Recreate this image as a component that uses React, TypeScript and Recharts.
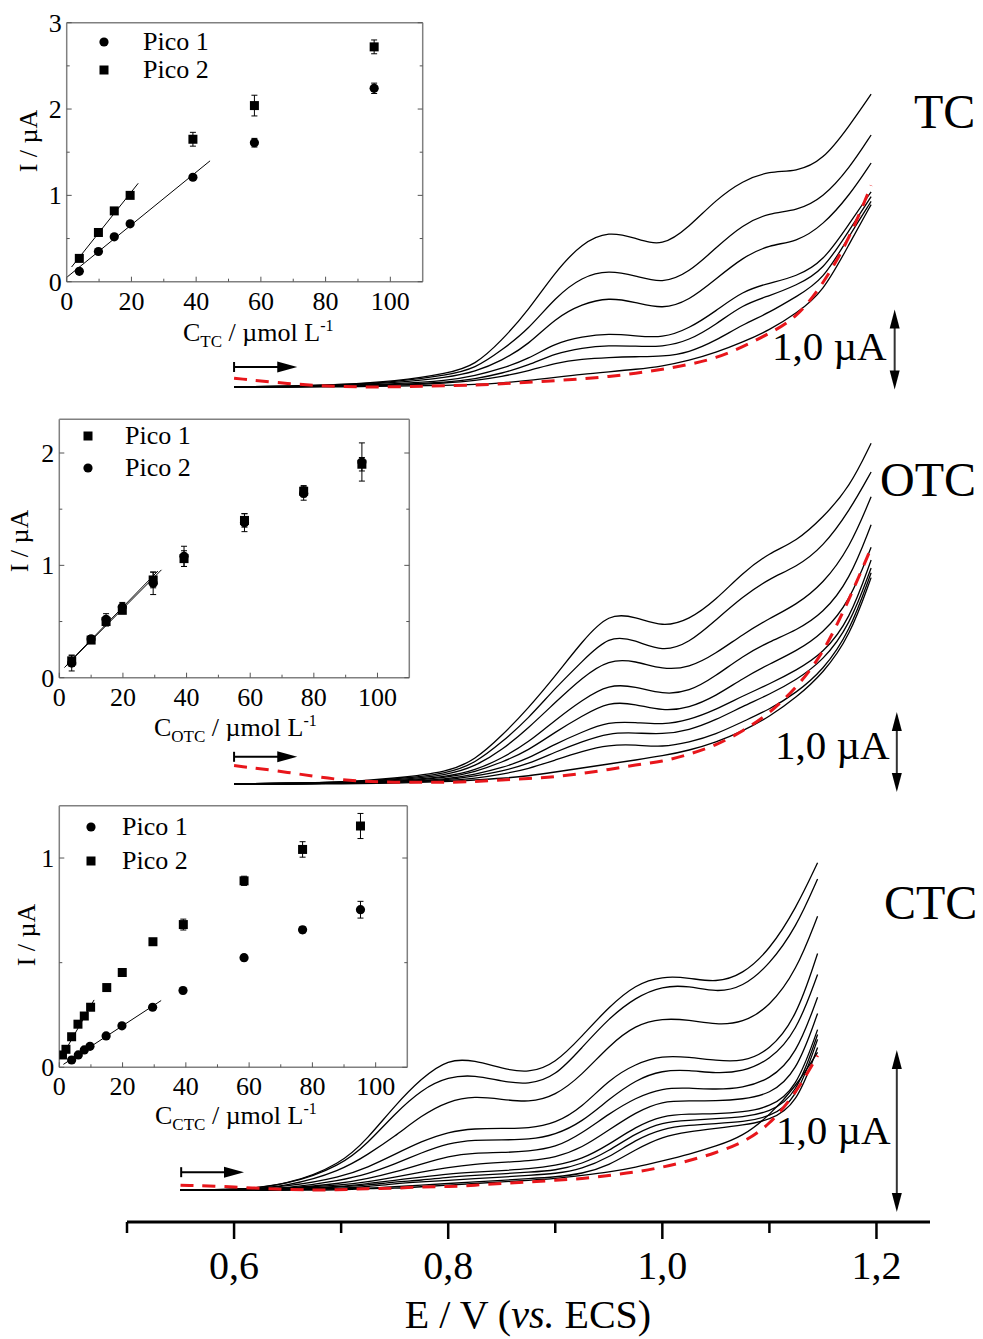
import React from 'react';
import {
  LineChart,
  Line,
  XAxis,
  YAxis,
  ReferenceLine,
  ComposedChart,
  Scatter,
  ErrorBar,
} from 'recharts';

const FONT = "'Liberation Serif', 'Times New Roman', serif";

// main potential axis, V vs. ECS
const potentialTicks = [0.5, 0.6, 0.7, 0.8, 0.9, 1.0, 1.1, 1.2];

// TC voltammograms (uA, relative to the start of the scan)
const tcE = [0.6, 0.65, 0.7, 0.75, 0.8, 0.825, 0.85, 0.875, 0.9, 0.925, 0.95, 0.975, 1.0, 1.025, 1.05, 1.075, 1.1, 1.125, 1.15, 1.175, 1.195];
const tcScan1 = [0, 0.01, 0.03, 0.07, 0.17, 0.27, 0.58, 0.96, 1.44, 1.8, 1.95, 1.86, 1.75, 2.0, 2.34, 2.58, 2.7, 2.69, 2.83, 3.27, 3.66];
const tcScan2 = [0, 0.01, 0.03, 0.06, 0.15, 0.23, 0.46, 0.72, 1.12, 1.38, 1.46, 1.39, 1.29, 1.43, 1.74, 2.03, 2.18, 2.2, 2.36, 2.74, 3.15];
const tcScan3 = [0, 0.01, 0.02, 0.05, 0.12, 0.19, 0.33, 0.53, 0.86, 1.04, 1.12, 1.06, 0.97, 1.08, 1.35, 1.62, 1.78, 1.81, 2.02, 2.4, 2.8];
const tcScan4 = [0, 0, 0.02, 0.04, 0.08, 0.14, 0.23, 0.35, 0.55, 0.63, 0.67, 0.64, 0.61, 0.73, 0.95, 1.2, 1.3, 1.38, 1.56, 2.05, 2.44];
const tcScan5 = [0, 0, 0.01, 0.03, 0.06, 0.1, 0.17, 0.27, 0.42, 0.49, 0.52, 0.51, 0.5, 0.58, 0.78, 1.03, 1.14, 1.27, 1.45, 1.97, 2.38];
const tcScan6 = [0, 0, 0.01, 0.02, 0.05, 0.08, 0.13, 0.2, 0.3, 0.35, 0.37, 0.38, 0.38, 0.43, 0.58, 0.78, 0.93, 1.13, 1.33, 1.9, 2.32];
const tcScan7 = [0, 0, 0, 0.01, 0.02, 0.03, 0.05, 0.08, 0.12, 0.16, 0.19, 0.22, 0.26, 0.33, 0.43, 0.56, 0.71, 0.92, 1.18, 1.8, 2.28];
const tcBlank = [0.11, 0.04, 0, 0, 0.02, 0.02, 0.04, 0.06, 0.08, 0.1, 0.13, 0.17, 0.22, 0.28, 0.36, 0.5, 0.67, 0.86, 1.28, 1.86, 2.52];

// OTC voltammograms
const otcE = [0.6, 0.65, 0.7, 0.75, 0.8, 0.825, 0.85, 0.875, 0.9, 0.925, 0.95, 0.975, 1.0, 1.025, 1.05, 1.075, 1.1, 1.125, 1.15, 1.175, 1.195];
const otcScan1 = [0, 0.01, 0.02, 0.07, 0.15, 0.3, 0.6, 0.95, 1.35, 1.78, 2.14, 2.09, 1.96, 2.05, 2.3, 2.64, 2.89, 3.03, 3.33, 3.71, 4.26];
const otcScan2 = [0, 0.01, 0.02, 0.06, 0.13, 0.26, 0.52, 0.82, 1.2, 1.53, 1.86, 1.8, 1.65, 1.76, 2.05, 2.34, 2.57, 2.71, 2.96, 3.42, 3.9];
const otcScan3 = [0, 0.01, 0.02, 0.05, 0.11, 0.22, 0.42, 0.7, 1.02, 1.33, 1.56, 1.54, 1.43, 1.45, 1.63, 1.87, 2.07, 2.24, 2.5, 2.95, 3.59];
const otcScan4 = [0, 0.01, 0.02, 0.04, 0.09, 0.17, 0.32, 0.52, 0.8, 1.05, 1.25, 1.22, 1.12, 1.15, 1.35, 1.6, 1.78, 1.92, 2.13, 2.55, 3.24];
const otcScan5 = [0, 0, 0.01, 0.03, 0.08, 0.15, 0.27, 0.42, 0.65, 0.85, 1.03, 1.0, 0.91, 0.95, 1.1, 1.32, 1.5, 1.66, 1.88, 2.28, 2.96];
const otcScan6 = [0, 0, 0.01, 0.03, 0.06, 0.12, 0.2, 0.32, 0.5, 0.65, 0.78, 0.77, 0.74, 0.8, 0.93, 1.1, 1.25, 1.42, 1.63, 2.05, 2.8];
const otcScan7 = [0, 0, 0.01, 0.02, 0.05, 0.1, 0.16, 0.25, 0.4, 0.53, 0.64, 0.64, 0.62, 0.67, 0.8, 0.97, 1.12, 1.3, 1.54, 1.98, 2.7];
const otcScan8 = [0, 0, 0.01, 0.02, 0.04, 0.07, 0.12, 0.19, 0.3, 0.41, 0.49, 0.49, 0.46, 0.52, 0.62, 0.78, 0.93, 1.14, 1.42, 1.9, 2.64];
const otcScan9 = [0, 0, 0, 0.01, 0.03, 0.05, 0.07, 0.1, 0.15, 0.2, 0.25, 0.3, 0.35, 0.42, 0.52, 0.66, 0.84, 1.08, 1.38, 1.84, 2.58];
const otcBlank = [0.23, 0.15, 0.04, 0.02, 0.02, 0.03, 0.05, 0.07, 0.09, 0.13, 0.18, 0.24, 0.28, 0.37, 0.48, 0.66, 0.88, 1.2, 1.62, 2.32, 2.95];

// CTC voltammograms
const ctcE = [0.55, 0.6, 0.65, 0.7, 0.725, 0.75, 0.775, 0.8, 0.825, 0.85, 0.875, 0.9, 0.925, 0.95, 0.975, 1.0, 1.025, 1.05, 1.075, 1.1, 1.125, 1.145];
const ctcScan1 = [0, 0, 0.03, 0.16, 0.32, 0.52, 0.69, 0.81, 0.8, 0.75, 0.72, 0.78, 0.95, 1.13, 1.27, 1.32, 1.31, 1.28, 1.33, 1.48, 1.74, 2.02];
const ctcScan2 = [0, 0, 0.03, 0.15, 0.29, 0.47, 0.62, 0.7, 0.71, 0.67, 0.65, 0.7, 0.88, 1.06, 1.19, 1.26, 1.26, 1.22, 1.25, 1.39, 1.62, 1.92];
const ctcScan3 = [0, 0, 0.02, 0.12, 0.22, 0.33, 0.46, 0.55, 0.58, 0.56, 0.54, 0.58, 0.71, 0.89, 1.02, 1.06, 1.05, 1.02, 1.03, 1.13, 1.35, 1.69];
const ctcScan4 = [0, 0, 0.02, 0.08, 0.14, 0.22, 0.3, 0.36, 0.38, 0.38, 0.38, 0.41, 0.51, 0.68, 0.78, 0.83, 0.82, 0.8, 0.79, 0.86, 1.06, 1.46];
const ctcScan5 = [0, 0, 0.01, 0.06, 0.1, 0.16, 0.23, 0.29, 0.31, 0.31, 0.31, 0.34, 0.42, 0.56, 0.68, 0.74, 0.74, 0.72, 0.73, 0.8, 0.97, 1.33];
const ctcScan6 = [0, 0, 0.01, 0.04, 0.07, 0.11, 0.16, 0.21, 0.23, 0.23, 0.24, 0.26, 0.35, 0.47, 0.57, 0.63, 0.63, 0.62, 0.63, 0.68, 0.83, 1.19];
const ctcScan7 = [0, 0, 0.01, 0.03, 0.05, 0.08, 0.11, 0.14, 0.16, 0.17, 0.18, 0.2, 0.26, 0.37, 0.48, 0.55, 0.55, 0.55, 0.56, 0.59, 0.72, 1.09];
const ctcScan8 = [0, 0, 0.01, 0.02, 0.04, 0.06, 0.08, 0.1, 0.11, 0.12, 0.13, 0.15, 0.19, 0.28, 0.39, 0.46, 0.47, 0.47, 0.48, 0.51, 0.62, 0.99];
const ctcScan9 = [0, 0, 0, 0.02, 0.03, 0.05, 0.06, 0.08, 0.09, 0.1, 0.11, 0.12, 0.16, 0.24, 0.35, 0.42, 0.43, 0.44, 0.45, 0.48, 0.58, 0.96];
const ctcScan10 = [0, 0, 0, 0.01, 0.02, 0.04, 0.05, 0.06, 0.07, 0.08, 0.09, 0.1, 0.13, 0.2, 0.31, 0.38, 0.4, 0.41, 0.42, 0.45, 0.55, 0.93];
const ctcScan11 = [0, 0, 0, 0.01, 0.01, 0.02, 0.03, 0.04, 0.05, 0.06, 0.07, 0.08, 0.1, 0.15, 0.25, 0.33, 0.36, 0.38, 0.4, 0.43, 0.52, 0.88];
const ctcScan12 = [0, 0, 0, 0, 0.01, 0.01, 0.02, 0.03, 0.04, 0.05, 0.06, 0.07, 0.09, 0.11, 0.14, 0.18, 0.22, 0.27, 0.33, 0.46, 0.64, 0.85];
const ctcBlank = [0.03, 0.02, 0, 0, 0.01, 0.01, 0.02, 0.02, 0.03, 0.04, 0.05, 0.06, 0.07, 0.09, 0.11, 0.14, 0.18, 0.23, 0.29, 0.4, 0.6, 0.83];

// calibration insets: concentration (umol/L), peak current (uA), std dev
const insetConcTicks = [0, 10, 20, 30, 40, 50, 60, 70, 80, 90, 100];

const tcConc = [3.9, 9.8, 14.7, 19.6, 39, 58, 95];
const tcPico1 = [0.12, 0.35, 0.52, 0.67, 1.21, 1.61, 2.24];
const tcPico1Err = [0.02, 0.02, 0.02, 0.02, 0.03, 0.05, 0.06];
const tcPico2 = [0.27, 0.57, 0.82, 1.0, 1.65, 2.04, 2.72];
const tcPico2Err = [0.02, 0.03, 0.03, 0.03, 0.08, 0.12, 0.08];
const tcFit1C = [0, 44.3];
const tcFit1I = [0.05, 1.4];
const tcFit2C = [1.5, 22.1];
const tcFit2I = [0.17, 1.14];
const tcITicks = [0, 0.5, 1, 1.5, 2, 2.5, 3];

const otcConc = [3.9, 10, 14.7, 19.8, 29.5, 39.2, 58.2, 76.8, 95.1];
const otcPico1 = [0.15, 0.335, 0.5, 0.6, 0.87, 1.06, 1.4, 1.66, 1.9];
const otcPico1Err = [0.05, 0.03, 0.04, 0.03, 0.07, 0.07, 0.06, 0.05, 0.06];
const otcPico2 = [0.13, 0.345, 0.52, 0.63, 0.84, 1.08, 1.38, 1.64, 1.92];
const otcPico2Err = [0.07, 0.03, 0.05, 0.04, 0.1, 0.09, 0.08, 0.06, 0.17];
const otcFit1C = [1.6, 32.1];
const otcFit1I = [0.09, 0.96];
const otcFit2C = [2.5, 31];
const otcFit2I = [0.12, 0.95];
const otcITicks = [0, 0.5, 1, 1.5, 2];

const ctcConc1 = [3.9, 6, 7.9, 9.7, 14.8, 19.8, 29.5, 39.1, 58.4, 76.9, 95.2];
const ctcPico1 = [0.035, 0.059, 0.083, 0.1, 0.15, 0.198, 0.287, 0.367, 0.524, 0.657, 0.753];
const ctcPico1Err = [0.01, 0.01, 0.01, 0.01, 0.01, 0.01, 0.01, 0.015, 0.015, 0.015, 0.04];
const ctcConc2 = [1, 2.1, 3.9, 5.9, 7.9, 9.9, 15, 19.9, 29.6, 39.2, 58.4, 76.9, 95.2];
const ctcPico2 = [0.059, 0.086, 0.146, 0.206, 0.245, 0.287, 0.381, 0.453, 0.6, 0.682, 0.891, 1.041, 1.153];
const ctcPico2Err = [0.01, 0.01, 0.01, 0.01, 0.01, 0.01, 0.01, 0.01, 0.015, 0.026, 0.022, 0.037, 0.06];
const ctcFit1C = [1.3, 32.2];
const ctcFit1I = [0.014, 0.319];
const ctcFit2C = [0.7, 11];
const ctcFit2I = [0.048, 0.322];
const ctcITicks = [0, 0.5, 1];

const toRows = (xs: number[], ys: number[]) => xs.map((E, k) => ({ E, i: ys[k] }));
const toPoints = (cs: number[], is: number[], es: number[]) => cs.map((c, k) => ({ c, i: is[k], err: es[k] }));
const toFit = (cs: number[], is: number[]) => cs.map((c, k) => ({ c, i: is[k] }));

// the main plot area runs from y=0 to y=1222; each panel gets its own hidden current axis
const PLOT_BOTTOM = 1222;
const panelDomain = (zeroPx: number, pxPerUA: number): [number, number] => {
  const lo = -(PLOT_BOTTOM - zeroPx) / pxPerUA;
  return [lo, lo + PLOT_BOTTOM / pxPerUA];
};

const panels = [
  {
    id: 'tc',
    E: tcE,
    scans: [tcScan1, tcScan2, tcScan3, tcScan4, tcScan5, tcScan6, tcScan7],
    blank: tcBlank,
    domain: panelDomain(387, 80),
    barX: 1.217,
    barFrom: -0.03,
    arrow: { from: 0.6, to: 0.659, at: 0.25 },
  },
  {
    id: 'otc',
    E: otcE,
    scans: [otcScan1, otcScan2, otcScan3, otcScan4, otcScan5, otcScan6, otcScan7, otcScan8, otcScan9],
    blank: otcBlank,
    domain: panelDomain(784, 80),
    barX: 1.219,
    barFrom: -0.1,
    arrow: { from: 0.6, to: 0.659, at: 0.34 },
  },
  {
    id: 'ctc',
    E: ctcE,
    scans: [ctcScan1, ctcScan2, ctcScan3, ctcScan4, ctcScan5, ctcScan6, ctcScan7, ctcScan8, ctcScan9, ctcScan10, ctcScan11, ctcScan12],
    blank: ctcBlank,
    domain: panelDomain(1190, 162),
    barX: 1.219,
    barFrom: -0.136,
    arrow: { from: 0.5506, to: 0.6093, at: 0.11 },
  },
];

const PotentialTick = (props: any) => {
  const { x, y, payload } = props;
  const v = payload.value;
  const major = Math.round(v * 10) % 2 === 0;
  return (
    <g>
      <line x1={x} x2={x} y1={y} y2={y + (major ? 17 : 11)} stroke="#000" strokeWidth={2.5} />
      {major && (
        <text x={x} y={y + 57} textAnchor="middle" fontSize={40} fontFamily={FONT} fill="#000">
          {v.toFixed(1).replace('.', ',')}
        </text>
      )}
    </g>
  );
};

const PotentialTitle = () => (
  <text x={528} y={1328} textAnchor="middle" fontSize={40} fontFamily={FONT} fill="#000">
    E / V (<tspan fontStyle="italic">vs.</tspan> ECS)
  </text>
);

const ScaleBar = (props: any) => {
  const { x1, y1, y2 } = props;
  const top = Math.min(y1, y2);
  const bottom = Math.max(y1, y2);
  return (
    <g>
      <line x1={x1} x2={x1} y1={top + 12} y2={bottom - 12} stroke="#333" strokeWidth={2} />
      <polygon points={`${x1},${top} ${x1 - 5},${top + 19} ${x1 + 5},${top + 19}`} fill="#000" />
      <polygon points={`${x1},${bottom} ${x1 - 5},${bottom - 19} ${x1 + 5},${bottom - 19}`} fill="#000" />
    </g>
  );
};

const ScanArrow = (props: any) => {
  const { x1, x2, y1 } = props;
  const left = Math.min(x1, x2);
  const right = Math.max(x1, x2);
  return (
    <g>
      <line x1={left} x2={right - 14} y1={y1} y2={y1} stroke="#000" strokeWidth={2} />
      <line x1={left} x2={left} y1={y1 - 5} y2={y1 + 5} stroke="#000" strokeWidth={2} />
      <polygon points={`${right},${y1} ${right - 20},${y1 - 5.5} ${right - 20},${y1 + 5.5}`} fill="#000" />
    </g>
  );
};

// inset ticks point inward on all four sides
const ConcTick = (props: any) => {
  const { x, y, payload } = props;
  const v = payload.value;
  const major = v % 20 === 0;
  return (
    <g>
      <line x1={x} x2={x} y1={y} y2={y - (major ? 5 : 3)} stroke="#555" strokeWidth={1} />
      {major && (
        <text x={x} y={y + 28} textAnchor="middle" fontSize={26} fontFamily={FONT} fill="#000">
          {v}
        </text>
      )}
    </g>
  );
};

const TopTick = (props: any) => {
  const { x, y, payload } = props;
  const major = payload.value % 20 === 0;
  return <line x1={x} x2={x} y1={y} y2={y + (major ? 5 : 3)} stroke="#555" strokeWidth={1} />;
};

const CurrentTick = (props: any) => {
  const { x, y, payload } = props;
  const v = payload.value;
  const major = Number.isInteger(v);
  return (
    <g>
      <line x1={x} x2={x + (major ? 5 : 3)} y1={y} y2={y} stroke="#555" strokeWidth={1} />
      {major && (
        <text x={x - 5} y={y + 9} textAnchor="end" fontSize={26} fontFamily={FONT} fill="#000">
          {v}
        </text>
      )}
    </g>
  );
};

const RightTick = (props: any) => {
  const { x, y, payload } = props;
  const major = Number.isInteger(payload.value);
  return <line x1={x} x2={x - (major ? 5 : 3)} y1={y} y2={y} stroke="#555" strokeWidth={1} />;
};

const DotMark = (p: any) => <circle cx={p.cx} cy={p.cy} r={4.6} fill="#000" />;
const SquareMark = (p: any) => <rect x={p.cx - 4.5} y={p.cy - 4.5} width={9} height={9} fill="#000" />;

const frameLine = { stroke: '#808080', strokeWidth: 1.5 };

const Inset = (props: any) => {
  const { top, frame, yMax, yTicks, sub, series, fits, yTitle, xTitle, legend } = props;
  const W = 430;
  const H = 350;
  return (
    <div style={{ position: 'absolute', left: 0, top, width: W, height: H }}>
      <ComposedChart
        width={W}
        height={H}
        margin={{ top: frame.top - top, right: W - frame.right, bottom: 0, left: 0 }}
      >
        <XAxis
          dataKey="c"
          type="number"
          domain={[0, 110]}
          allowDataOverflow
          ticks={insetConcTicks}
          interval={0}
          height={top + H - frame.bottom}
          tickSize={0}
          tickMargin={0}
          tickLine={false}
          axisLine={frameLine}
          tick={ConcTick}
          label={{
            content: () => (
              <text x={xTitle.x} y={xTitle.y - top} fontSize={26} fontFamily={FONT} fill="#000">
                C<tspan fontSize={17} dy={6}>{sub}</tspan>
                <tspan dy={-6}> / µmol L</tspan>
                <tspan fontSize={16} dy={-10}>-1</tspan>
              </text>
            ),
          }}
        />
        <XAxis
          xAxisId="top"
          orientation="top"
          mirror
          type="number"
          domain={[0, 110]}
          allowDataOverflow
          ticks={insetConcTicks}
          interval={0}
          tickSize={0}
          tickMargin={0}
          tickLine={false}
          axisLine={frameLine}
          tick={TopTick}
        />
        <YAxis
          dataKey="i"
          type="number"
          domain={[0, yMax]}
          allowDataOverflow
          ticks={yTicks}
          interval={0}
          width={frame.left}
          tickSize={0}
          tickMargin={0}
          tickLine={false}
          axisLine={frameLine}
          tick={CurrentTick}
          label={{
            content: () => (
              <text
                transform={`translate(${yTitle.x},${yTitle.y - top}) rotate(-90)`}
                textAnchor="middle"
                fontSize={26}
                fontFamily={FONT}
                fill="#000"
              >
                I / µA
              </text>
            ),
          }}
        />
        <YAxis
          yAxisId="right"
          orientation="right"
          mirror
          type="number"
          domain={[0, yMax]}
          allowDataOverflow
          ticks={yTicks}
          interval={0}
          tickSize={0}
          tickMargin={0}
          tickLine={false}
          axisLine={frameLine}
          tick={RightTick}
        />
        {fits.map((f: any, k: number) => (
          <Line
            key={'fit' + k}
            data={f}
            dataKey="i"
            type="linear"
            stroke="#000"
            strokeWidth={1}
            dot={false}
            activeDot={false}
            isAnimationActive={false}
          />
        ))}
        {series.map((s: any, k: number) => (
          <Scatter
            key={'pts' + k}
            data={s.rows}
            dataKey="i"
            shape={s.shape === 'circle' ? DotMark : SquareMark}
            isAnimationActive={false}
          >
            <ErrorBar dataKey="err" direction="y" width={3} stroke="#000" strokeWidth={1} />
          </Scatter>
        ))}
      </ComposedChart>
      {legend.rows.map((r: any) => (
        <React.Fragment key={r.label}>
          <svg
            style={{ position: 'absolute', left: legend.mx - 6, top: r.y - top - 6 }}
            width={12}
            height={12}
          >
            {r.shape === 'circle' ? (
              <circle cx={6} cy={6} r={4.6} fill="#000" />
            ) : (
              <rect x={1.5} y={1.5} width={9} height={9} fill="#000" />
            )}
          </svg>
          <div
            style={{
              position: 'absolute',
              left: legend.tx,
              top: r.y - top - 13.2,
              fontSize: 26,
              lineHeight: '26px',
              fontFamily: FONT,
              whiteSpace: 'nowrap',
              color: '#000',
            }}
          >
            {r.label}
          </div>
        </React.Fragment>
      ))}
    </div>
  );
};

const Caption = ({ text, left, cy, size }: { text: string; left: number; cy: number; size: number }) => (
  <div
    style={{
      position: 'absolute',
      left,
      top: cy - 0.506 * size,
      fontSize: size,
      lineHeight: `${size}px`,
      fontFamily: FONT,
      whiteSpace: 'nowrap',
      color: '#000',
    }}
  >
    {text}
  </div>
);

export default function App() {
  return (
    <div style={{ position: 'absolute', left: 0, top: 0, width: 983, height: 1339, background: '#fff' }}>
      <div style={{ position: 'absolute', left: 0, top: 0 }}>
        <LineChart width={983} height={1339} margin={{ top: 0, right: 53, bottom: 0, left: 127 }}>
          <XAxis
            dataKey="E"
            type="number"
            domain={[0.5, 1.25]}
            allowDataOverflow
            ticks={potentialTicks}
            interval={0}
            height={117}
            tickSize={0}
            tickMargin={0}
            tickLine={false}
            axisLine={{ stroke: '#000', strokeWidth: 3 }}
            tick={PotentialTick}
            label={{ content: PotentialTitle }}
          />
          {panels.map((p) => (
            <YAxis key={'y-' + p.id} yAxisId={p.id} hide type="number" domain={p.domain} allowDataOverflow />
          ))}
          {panels.flatMap((p) =>
            p.scans.map((s, k) => (
              <Line
                key={`${p.id}-${k}`}
                yAxisId={p.id}
                data={toRows(p.E, s)}
                dataKey="i"
                type="basis"
                stroke="#000"
                strokeWidth={1.3}
                dot={false}
                activeDot={false}
                isAnimationActive={false}
              />
            ))
          )}
          {panels.map((p) => (
            <Line
              key={`${p.id}-blank`}
              yAxisId={p.id}
              data={toRows(p.E, p.blank)}
              dataKey="i"
              type="basis"
              stroke="#e8161b"
              strokeWidth={3}
              strokeDasharray="13 9"
              dot={false}
              activeDot={false}
              isAnimationActive={false}
            />
          ))}
          {panels.map((p) => (
            <ReferenceLine
              key={`${p.id}-bar`}
              yAxisId={p.id}
              segment={[
                { x: p.barX, y: p.barFrom },
                { x: p.barX, y: p.barFrom + 1 },
              ]}
              shape={ScaleBar}
              ifOverflow="visible"
            />
          ))}
          {panels.map((p) => (
            <ReferenceLine
              key={`${p.id}-scan`}
              yAxisId={p.id}
              segment={[
                { x: p.arrow.from, y: p.arrow.at },
                { x: p.arrow.to, y: p.arrow.at },
              ]}
              shape={ScanArrow}
              ifOverflow="visible"
            />
          ))}
        </LineChart>
      </div>

      <Inset
        top={0}
        frame={{ left: 66.7, top: 22.7, right: 422.7, bottom: 281.7 }}
        yMax={3}
        yTicks={tcITicks}
        sub="TC"
        series={[
          { rows: toPoints(tcConc, tcPico1, tcPico1Err), shape: 'circle' },
          { rows: toPoints(tcConc, tcPico2, tcPico2Err), shape: 'square' },
        ]}
        fits={[toFit(tcFit1C, tcFit1I), toFit(tcFit2C, tcFit2I)]}
        yTitle={{ x: 37, y: 141 }}
        xTitle={{ x: 183, y: 341 }}
        legend={{
          mx: 104,
          tx: 143,
          rows: [
            { shape: 'circle', label: 'Pico 1', y: 42 },
            { shape: 'square', label: 'Pico 2', y: 70 },
          ],
        }}
      />
      <Inset
        top={400}
        frame={{ left: 59.3, top: 419.3, right: 409.3, bottom: 677.7 }}
        yMax={2.3}
        yTicks={otcITicks}
        sub="OTC"
        series={[
          { rows: toPoints(otcConc, otcPico1, otcPico1Err), shape: 'square' },
          { rows: toPoints(otcConc, otcPico2, otcPico2Err), shape: 'circle' },
        ]}
        fits={[toFit(otcFit1C, otcFit1I), toFit(otcFit2C, otcFit2I)]}
        yTitle={{ x: 28, y: 541 }}
        xTitle={{ x: 154, y: 736 }}
        legend={{
          mx: 88,
          tx: 125,
          rows: [
            { shape: 'square', label: 'Pico 1', y: 436 },
            { shape: 'circle', label: 'Pico 2', y: 468 },
          ],
        }}
      />
      <Inset
        top={790}
        frame={{ left: 59.3, top: 805.7, right: 407.3, bottom: 1067.3 }}
        yMax={1.25}
        yTicks={ctcITicks}
        sub="CTC"
        series={[
          { rows: toPoints(ctcConc1, ctcPico1, ctcPico1Err), shape: 'circle' },
          { rows: toPoints(ctcConc2, ctcPico2, ctcPico2Err), shape: 'square' },
        ]}
        fits={[toFit(ctcFit1C, ctcFit1I), toFit(ctcFit2C, ctcFit2I)]}
        yTitle={{ x: 35, y: 935 }}
        xTitle={{ x: 155, y: 1124 }}
        legend={{
          mx: 91,
          tx: 122,
          rows: [
            { shape: 'circle', label: 'Pico 1', y: 827 },
            { shape: 'square', label: 'Pico 2', y: 861 },
          ],
        }}
      />

      <Caption text="TC" left={914} cy={112} size={48} />
      <Caption text="OTC" left={880} cy={480} size={48} />
      <Caption text="CTC" left={884} cy={903} size={48} />
      <Caption text="1,0 µA" left={772} cy={347} size={41} />
      <Caption text="1,0 µA" left={775} cy={746} size={41} />
      <Caption text="1,0 µA" left={776} cy={1131} size={41} />
    </div>
  );
}
